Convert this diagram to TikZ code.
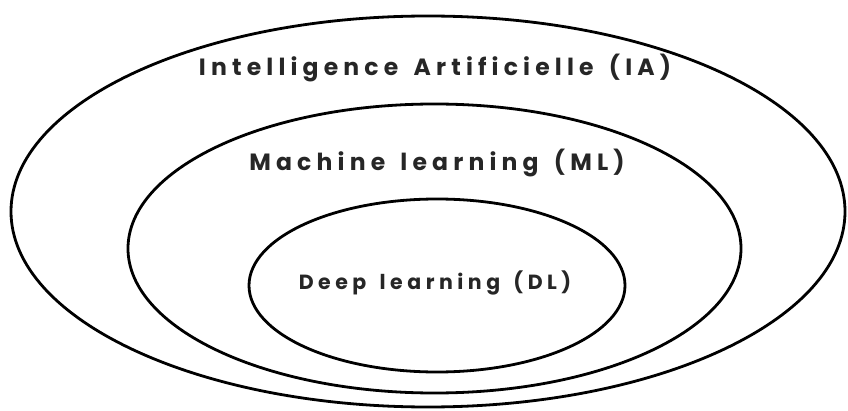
\documentclass[tikz,border=0pt]{standalone}
\usepackage{fontspec}
\usepackage{tikz}
\usetikzlibrary{shapes.geometric}
\usetikzlibrary{positioning}
\newfontfamily\labelfont[LetterSpace=22,WordSpace=1.5]{Poppins}

\begin{document}
\begin{tikzpicture}[x=1pt,y=1pt,ring/.style={ellipse,draw,line width=2.8pt,inner sep=0pt},ring label/.style={text=black!85,font=\labelfont\bfseries}]
      \useasboundingbox (0,0) rectangle (848,410);

      \node [ring, minimum width=834pt, minimum height=391pt] (ia) at (428,198.5) {};
      \node [ring, minimum width=613pt, minimum height=289pt] (ml) at (434.5,161.5) {};
      \node [ring, minimum width=376pt, minimum height=173pt] (dl) at (437,124.5) {};

      \node [ring label, font=\labelfont\bfseries\fontsize{23.5}{26}\selectfont] (ia text) at (435,341.5) {Intelligence Artificielle (IA)};
      \node [ring label, font=\labelfont\bfseries\fontsize{23.5}{26}\selectfont] (ml text) at (437,247) {Machine learning (ML)};
      \node [ring label, font=\labelfont\bfseries\fontsize{20.5}{23}\selectfont] (dl text) at (435,127) {Deep learning (DL)};

    \end{tikzpicture}
\end{document}
